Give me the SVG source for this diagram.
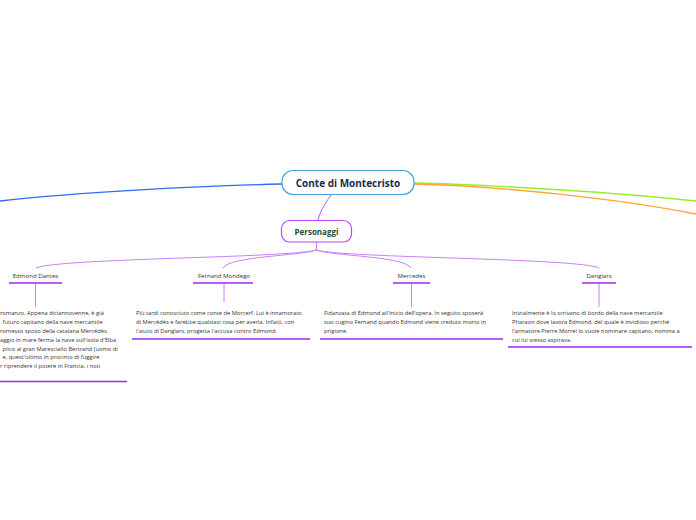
<svg xmlns="http://www.w3.org/2000/svg" width="696" height="520" viewBox="0 0 696 520">
<style>
.bg{fill:#ffffff}
.conn{fill:none;stroke:#cc80ff;stroke-width:1}
.lbl{font-family:"Open Sans","Noto Sans",sans-serif;font-size:6.1px;fill:#333333;text-anchor:middle}
.body{font-family:"Open Sans","Noto Sans",sans-serif;font-size:5.75px;fill:#333333}
.ul{stroke:#a426f0;stroke-width:1.6}
.vl{stroke:#cc80ff;stroke-width:1}
</style>
<rect class="bg" x="0" y="0" width="696" height="520"/>
<g id="connectors">
  <path d="M282,184 C200,186 80,192 0,201" fill="none" stroke="#2f6cf2" stroke-width="1.3"/>
  <path d="M414,183 C500,185 620,193 696,201" fill="none" stroke="#96ee2e" stroke-width="1.3"/>
  <path d="M414,184 C500,186 620,199 696,214" fill="none" stroke="#ffa533" stroke-width="1.3"/>
  <path d="M331,195 C324,205 320,212 318,220" fill="none" stroke="#bf55f5" stroke-width="1"/>
  <path class="conn" d="M316.5,242 L316.5,250"/>
  <path class="conn" d="M316.5,250 C290,258 60,258 36,268"/>
  <path class="conn" d="M316.5,250 C300,256 230,256 223,268"/>
  <path class="conn" d="M316.5,250 C330,256 405,256 411,268"/>
  <path class="conn" d="M316.5,250 C340,258 580,258 599,268"/>
  <line class="vl" x1="35.5" y1="283" x2="35.5" y2="307"/>
  <line class="vl" x1="224" y1="283" x2="224" y2="302"/>
  <line class="vl" x1="411.5" y1="283" x2="411.5" y2="307"/>
  <line class="vl" x1="599" y1="283" x2="599" y2="307"/>
</g>
<g id="main">
  <rect x="282" y="170.5" width="132" height="24" rx="11" fill="#ffffff" stroke="#4aa3df" stroke-width="1.2"/>
  <text x="348" y="187" font-family="'Open Sans','Noto Sans',sans-serif" font-size="10" font-weight="bold" fill="#1b2a4c" text-anchor="middle">Conte di Montecristo</text>
</g>
<g id="personaggi">
  <rect x="281.5" y="220.5" width="70" height="21.5" rx="8" fill="#ffffff" stroke="#b845ef" stroke-width="1.2"/>
  <text x="316.5" y="234.5" font-family="'Open Sans','Noto Sans',sans-serif" font-size="8" font-weight="bold" fill="#1f4a3c" text-anchor="middle">Personaggi</text>
</g>
<g id="edmond">
  <text class="lbl" x="35.5" y="278">Edmond Dantes</text>
  <line class="ul" x1="9" y1="283" x2="62" y2="283"/>
</g>
<g id="edmond-text">
  <text class="body" x="0" y="315">romanzo. Appena diciannovenne, è già</text>
  <text class="body" x="2.5" y="324">futuro capitano della nave mercantile</text>
  <text class="body" x="0" y="332.5">romesso sposo della catalana Mercédès.</text>
  <text class="body" x="0" y="341.5">aggio in mare ferma la nave sull'isola d'Elba</text>
  <text class="body" x="2.5" y="350.5">plico al gran Maresciallo Bertrand (uomo di</text>
  <text class="body" x="2.5" y="359">e, quest'ultimo in procinto di fuggire</text>
  <text class="body" x="0" y="368">r riprendere il potere in Francia, i noti</text>
  <line class="ul" x1="0" y1="381.5" x2="127" y2="381.5"/>
</g>
<g id="fernand">
  <text class="lbl" x="224" y="278">Fernand Mondego</text>
  <line class="ul" x1="193" y1="283" x2="253" y2="283"/>
</g>
<g id="fernand-text">
  <text class="body" x="136" y="315">Più tardi conosciuto come conte de Morcerf. Lui è innamorato</text>
  <text class="body" x="136" y="324">di Mercédès e farebbe qualsiasi cosa per averla. Infatti, con</text>
  <text class="body" x="136" y="333">l'aiuto di Danglars, progetta l'accusa contro Edmond.</text>
  <line class="ul" x1="132" y1="339" x2="310" y2="339"/>
</g>
<g id="mercedes">
  <text class="lbl" x="411.5" y="278">Mercedes</text>
  <line class="ul" x1="393" y1="283" x2="430" y2="283"/>
</g>
<g id="mercedes-text">
  <text class="body" x="324" y="315">Fidanzata di Edmond all'inizio dell'opera. In seguito sposerà</text>
  <text class="body" x="324" y="324">suo cugino Fernand quando Edmond viene creduto morto in</text>
  <text class="body" x="324" y="333">prigione.</text>
  <line class="ul" x1="320" y1="339" x2="503" y2="339"/>
</g>
<g id="danglars">
  <text class="lbl" x="599" y="278">Danglars</text>
  <line class="ul" x1="582" y1="283" x2="616" y2="283"/>
</g>
<g id="danglars-text">
  <text class="body" x="512" y="315">Inizialmente è lo scrivano di bordo della nave mercantile</text>
  <text class="body" x="512" y="324">Pharaon dove lavora Edmond, del quale è invidioso perché</text>
  <text class="body" x="512" y="333">l'armatore Pierre Morrel lo vuole nominare capitano, nomina a</text>
  <text class="body" x="512" y="341.5">cui lui stesso aspirava.</text>
  <line class="ul" x1="508" y1="347" x2="692" y2="347"/>
</g>
</svg>
